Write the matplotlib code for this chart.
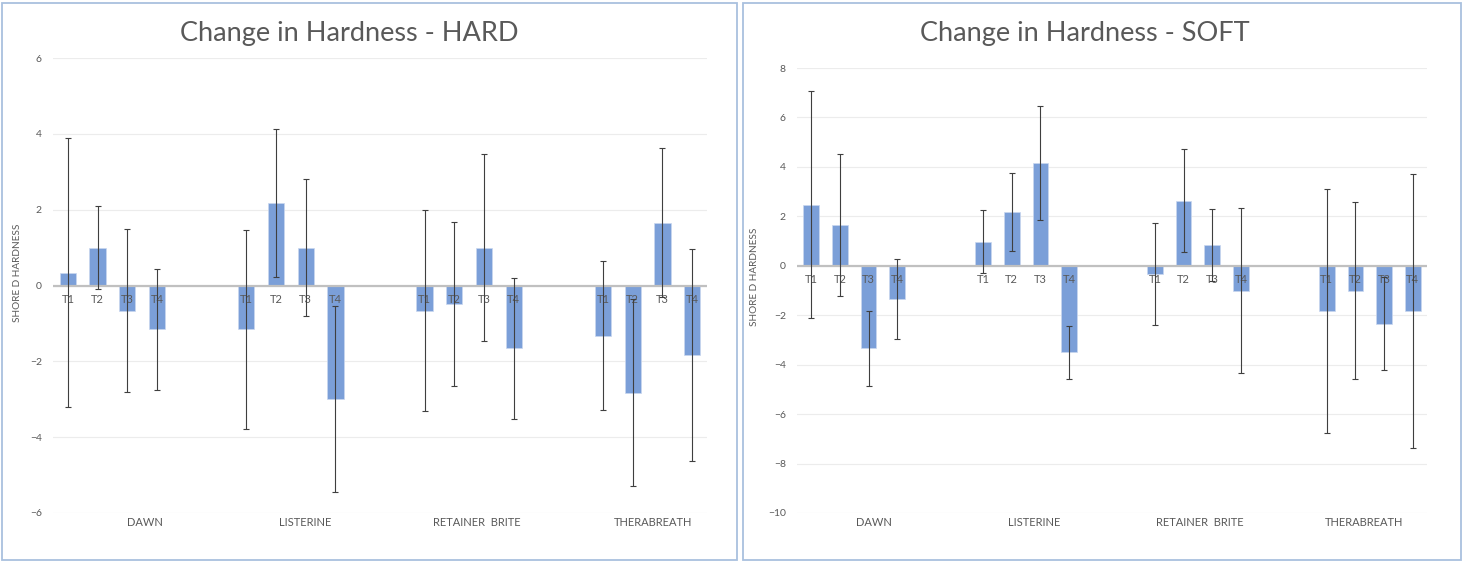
import matplotlib
matplotlib.use("Agg")
import matplotlib.pyplot as plt
from matplotlib.patches import Rectangle
import numpy as np

plt.rcParams['font.family'] = ['Lato', 'DejaVu Sans']

# ==== data ====
groups = ["DAWN", "LISTERINE", "RETAINER  BRITE", "THERABREATH"]
times = ["T1", "T2", "T3", "T4"]

hard_mean = [0.34, 1.0, -0.66, -1.16,
             -1.16, 2.17, 1.0, -3.0,
             -0.66, -0.49, 1.0, -1.66,
             -1.32, -2.83, 1.66, -1.83]
hard_err = [3.55, 1.1, 2.15, 1.59,
            2.63, 1.95, 1.8, 2.45,
            2.66, 2.17, 2.46, 1.87,
            1.97, 2.47, 1.97, 2.8]

soft_mean = [2.47, 1.66, -3.33, -1.34,
             0.98, 2.17, 4.16, -3.5,
             -0.34, 2.64, 0.84, -1.0,
             -1.82, -1.0, -2.34, -1.82]
soft_err = [4.6, 2.87, 1.52, 1.63,
            1.26, 1.58, 2.3, 1.06,
            2.07, 2.07, 1.44, 3.33,
            4.94, 3.59, 1.87, 5.55]

# ==== style ====
BAR = "#7b9fd8"
TXT = "#595959"
GRID = "#ececec"
ZERO = "#c0c0c0"
BORDER = "#a9c0de"

fig = plt.figure(figsize=(14.63, 5.62), dpi=100)

# chart frames
fig.patches.append(Rectangle((2 / 1463, 2 / 562), 735 / 1463, 557 / 562, transform=fig.transFigure,
                             fill=False, edgecolor=BORDER, linewidth=1.3))
fig.patches.append(Rectangle((743 / 1463, 2 / 562), 718 / 1463, 557 / 562, transform=fig.transFigure,
                             fill=False, edgecolor=BORDER, linewidth=1.3))

# x positions: 4 bars per group, 2 empty slots between groups
xpos = np.array([6 * g + j for g in range(len(groups)) for j in range(len(times))], dtype=float)


def draw(ax, mean, err, ylim, title, title_x, label_x, ylabel_xy):
    ax.set_xlim(-0.5, 21.5)
    ax.set_ylim(*ylim)
    for s in ax.spines.values():
        s.set_visible(False)
    ax.set_yticks(np.arange(ylim[0], ylim[1] + 1, 2))
    ax.set_xticks([])
    ax.tick_params(axis="y", length=0, labelsize=7.5, labelcolor=TXT, pad=8)
    ax.grid(axis="y", color=GRID, linewidth=0.8)
    ax.set_axisbelow(True)

    ax.bar(xpos, mean, width=0.55, color=BAR, edgecolor="#c9d7ef", linewidth=0.5, zorder=2)
    ax.axhline(0, color=ZERO, linewidth=1.6, zorder=3)

    for i, x in enumerate(xpos):
        ax.annotate(times[i % 4], xy=(x, 0), xytext=(0, -10), textcoords="offset points",
                    ha="center", va="center", fontsize=8, color=TXT, zorder=4)

    ax.errorbar(xpos, mean, yerr=err, fmt="none", ecolor="#3f3f3f", elinewidth=0.8,
                capsize=2.5, capthick=0.8, zorder=5)

    for gx, name in zip(label_x, groups):
        ax.annotate(name, xy=(gx, ylim[0]), xytext=(0, -7), textcoords="offset points",
                    ha="center", va="center", fontsize=8, color=TXT)

    ax.set_ylabel("SHORE D HARDNESS", fontsize=7.2, color=TXT)
    ax.yaxis.set_label_coords(*ylabel_xy)
    fig.text(title_x, 0.94, title, ha="center", va="center", fontsize=19.5, color=TXT)


ax1 = fig.add_axes([53 / 1463, 49 / 562, 654 / 1463, 455 / 562])
draw(ax1, hard_mean, hard_err, (-6, 6), "Change in Hardness - HARD", 349 / 1463,
     [2.6, 8.0, 13.75, 19.7], (-0.047, 0.527))

ax2 = fig.add_axes([797 / 1463, 49 / 562, 630 / 1463, 445 / 562])
draw(ax2, soft_mean, soft_err, (-10, 8), "Change in Hardness - SOFT", 1085 / 1463,
     [2.2, 7.8, 13.55, 19.3], (-0.060, 0.53))

fig.savefig("out.png", dpi=100)
